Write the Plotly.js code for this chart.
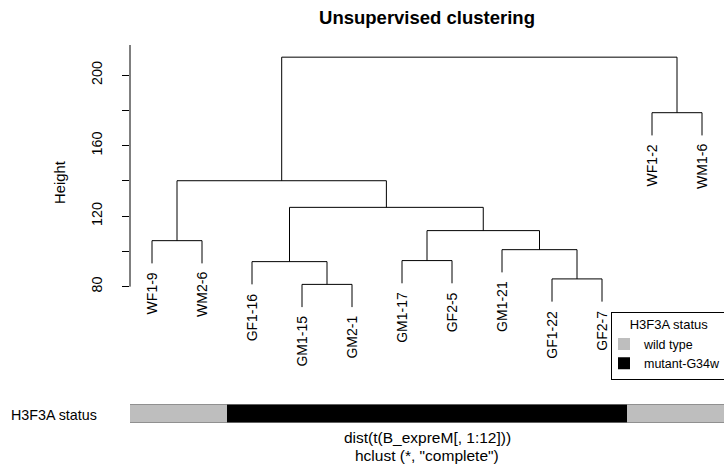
<!DOCTYPE html>
<html>
<head>
<meta charset="utf-8">
<script src="https://cdn.plot.ly/plotly-3.0.1.min.js"></script>
<style>html,body{margin:0;padding:0;background:#fff;overflow:hidden;}#chart{width:724px;height:474px;}</style>
</head>
<body>
<div id="chart"></div>
<script>
// Leaf labels in dendrogram order
var leafLabels = ["WF1-9","WM2-6","GF1-16","GM1-15","GM2-1","GM1-17","GF2-5","GM1-21","GF1-22","GF2-7","WF1-2","WM1-6"];
// H3F3A status per leaf (same order)
var leafStatus = ["wild type","wild type","mutant-G34w","mutant-G34w","mutant-G34w","mutant-G34w","mutant-G34w","mutant-G34w","mutant-G34w","mutant-G34w","wild type","wild type"];
// Merge steps (R hclust style): negative = leaf position (1-based), positive = earlier merge step
var mergeLeft  = [-4, -9, -3, -6, -8, -1, 4, 3, 6, -11, 9];
var mergeRight = [-5, -10, 1, -7, 2, -2, 5, 7, 8, -12, 10];
var mergeHeight = [81.3, 84.4, 94.2, 94.8, 101.0, 106.1, 111.8, 125.0, 140.1, 178.7, 210.2];
var statusNames = ["wild type","mutant-G34w"];
var statusColors = {"wild type":"#BEBEBE","mutant-G34w":"#000000"};
var yTickVals = [80,100,120,140,160,180,200];
var yTickText = ["80","","120","","160","","200"];

var FONT = "Liberation Sans, Arial, Helvetica, sans-serif";
var hMax = Math.max.apply(null, mergeHeight), hMin = Math.min.apply(null, mergeHeight);
var hang = 0.1 * (hMax - hMin);

var nodeX = [];
function childX(c){ return c < 0 ? -c : nodeX[c-1]; }
function childY(c, h){ return c < 0 ? h - hang : mergeHeight[c-1]; }
var lx = [], ly = [];
var leafY = [];
for (var i = 0; i < mergeHeight.length; i++) {
  var l = mergeLeft[i], r = mergeRight[i], h = mergeHeight[i];
  var xl = childX(l), xr = childX(r);
  nodeX.push((xl + xr) / 2);
  var yl = childY(l, h), yr = childY(r, h);
  if (l < 0) leafY[-l-1] = yl;
  if (r < 0) leafY[-r-1] = yr;
  lx.push(xl, xl, xr, xr, null);
  ly.push(yl, h, h, yr, null);
}
var leafPos = leafLabels.map(function(_, i){ return i + 1; });

var traces = [{
  type: "scatter", mode: "lines", x: lx, y: ly, xaxis: "x", yaxis: "y",
  line: {color: "#000", width: 1}, showlegend: false, hoverinfo: "skip"
}];
statusNames.forEach(function(s){
  var xs = [], ys = [];
  leafStatus.forEach(function(st, i){ if (st === s) { xs.push(leafPos[i]); ys.push(1); } });
  traces.push({
    type: "bar", name: s, x: xs, y: ys, width: 1, xaxis: "x", yaxis: "y2",
    marker: {color: statusColors[s], line: {width: 0}}, hoverinfo: "skip"
  });
});

var yTop = 217.1, yBot = 61.1;
var annotations = leafLabels.map(function(lab, i){
  return {x: leafPos[i], y: leafY[i], xref: "x", yref: "y", text: lab, textangle: -90,
    showarrow: false, xanchor: "center", yanchor: "top", yshift: -7,
    font: {family: FONT, size: 14, color: "#000"}};
});
annotations.push({x: -0.0517, y: (474-414.5)/429, xref: "paper", yref: "paper", text: "H3F3A status",
  showarrow: false, xanchor: "right", yanchor: "middle", font: {family: FONT, size: 14.3, color: "#000"}});
annotations.push({x: 0.5, y: (474-437.5)/429, xref: "paper", yref: "paper", text: "dist(t(B_expreM[, 1:12]))",
  showarrow: false, xanchor: "center", yanchor: "middle", font: {family: FONT, size: 15.5, color: "#000"}});
annotations.push({x: 0.5, y: (474-455)/429, xref: "paper", yref: "paper", text: "hclust (*, \"complete\")",
  showarrow: false, xanchor: "center", yanchor: "middle", font: {family: FONT, size: 15.5, color: "#000"}});

var layout = {
  width: 724, height: 474,
  margin: {l: 130, r: 0, t: 45, b: 0, pad: 0, autoexpand: false},
  paper_bgcolor: "#fff", plot_bgcolor: "#fff",
  font: {family: FONT, size: 14, color: "#000"},
  title: {text: "<b>Unsupervised clustering</b>", x: 0.5, xref: "paper", y: 1 - 18/474, yanchor: "middle",
    font: {family: FONT, size: 18.5, color: "#000"}},
  xaxis: {range: [0.56, 12.44], showgrid: false, zeroline: false, showticklabels: false, ticks: "", showline: false, fixedrange: true},
  yaxis: {domain: [0.359, 1], range: [yBot, yTop], tickvals: yTickVals, ticktext: yTickText,
    ticks: "outside", ticklen: 7, tickcolor: "#000", tickwidth: 1, tickangle: -90,
    showgrid: false, zeroline: false, showline: false, ticklabelstandoff: 14,
    tickfont: {family: FONT, size: 14.4, color: "#000"},
    title: {text: "Height", standoff: 20, font: {family: FONT, size: 14.8, color: "#000"}}},
  yaxis2: {domain: [0.1189, 0.1632], range: [0, 1], anchor: "x", visible: false, fixedrange: true},
  barmode: "overlay", bargap: 0,
  showlegend: true,
  legend: {xref: "container", yref: "container", x: 611/724, y: 1 - 311.5/474, xanchor: "left", yanchor: "top", bgcolor: "#fff",
    bordercolor: "#000", borderwidth: 1, traceorder: "normal", tracegroupgap: 0, indentation: -8,
    title: {text: "H3F3A status", side: "top center", font: {family: FONT, size: 13, color: "#000"}},
    font: {family: FONT, size: 12.5, color: "#000"}},
  shapes: [
    {type: "line", xref: "paper", yref: "y", x0: 0, x1: 0, y0: yTickVals[0], y1: yTop, line: {color: "#000", width: 1}},
    {type: "line", xref: "x", yref: "y2", x0: 0.5, x1: 12.5, y0: 1, y1: 1, line: {color: "#808080", width: 1.5}},
    {type: "line", xref: "x", yref: "y2", x0: 0.5, x1: 12.5, y0: 0, y1: 0, line: {color: "#808080", width: 1.5}}
  ],
  annotations: annotations
};
Plotly.newPlot("chart", traces, layout, {staticPlot: true, displayModeBar: false});
</script>
</body>
</html>
